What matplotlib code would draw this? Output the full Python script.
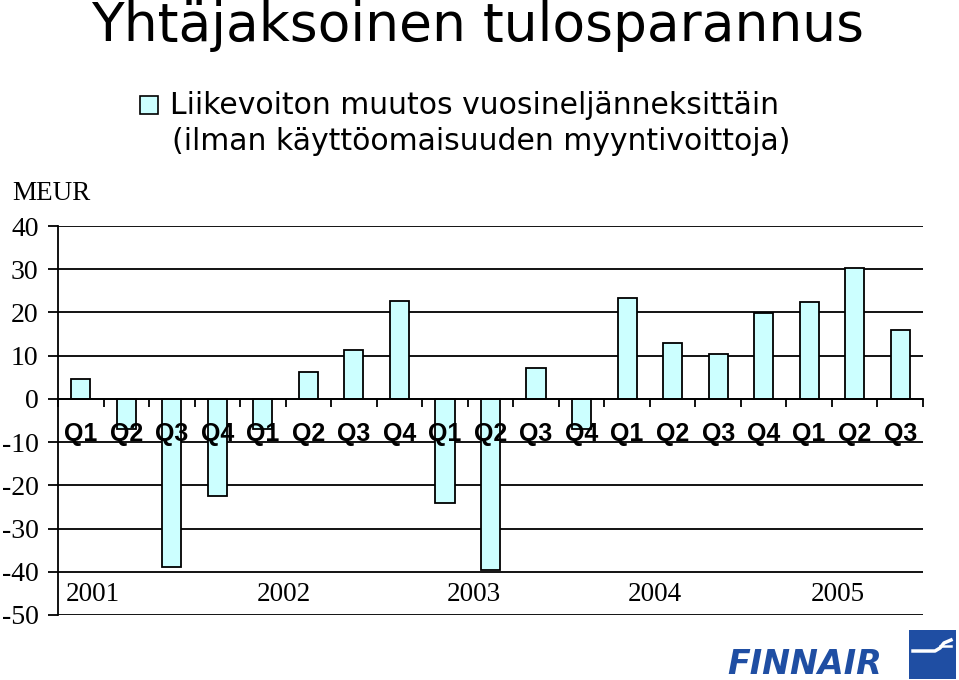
import matplotlib
matplotlib.use("Agg")
import matplotlib.pyplot as plt
from matplotlib.patches import Rectangle
from matplotlib.lines import Line2D
import numpy as np

quarters = ["Q1", "Q2", "Q3", "Q4", "Q1", "Q2", "Q3", "Q4", "Q1", "Q2", "Q3", "Q4",
            "Q1", "Q2", "Q3", "Q4", "Q1", "Q2", "Q3"]
values = [4.5, -7.0, -39.0, -22.4, -7.0, 6.2, 11.3, 22.6, -24.0, -39.5, 7.2, -7.0,
          23.3, 12.9, 10.4, 19.9, 22.4, 30.3, 16.0]
years = ["2001", "2002", "2003", "2004", "2005"]
year_pos = [0.27, 4.47, 8.64, 12.62, 16.62]
yticks = [-50, -40, -30, -20, -10, 0, 10, 20, 30, 40]

W, H = 959, 680
fig = plt.figure(figsize=(W / 100, H / 100), dpi=100)
ax = fig.add_axes([58 / W, 1 - 615 / H, (923 - 58) / W, (615 - 226) / H])

x = np.arange(len(values))
ax.bar(x, values, width=0.42, color="#ccffff", edgecolor="black", linewidth=1.3, zorder=3)

ax.set_xlim(-0.5, len(values) - 0.5)
ax.set_ylim(-50, 40)
ax.set_yticks(yticks)
ax.set_yticklabels([str(v) for v in yticks], fontfamily="Liberation Serif", fontsize=20)
ax.yaxis.grid(True, color="black", linewidth=1.3, zorder=1)
ax.tick_params(axis="y", direction="out", length=7, width=1.3, pad=7)

ax.spines["top"].set_visible(False)
ax.spines["right"].set_visible(False)
ax.spines["left"].set_linewidth(1.3)
ax.spines["bottom"].set_position(("data", 0))
ax.spines["bottom"].set_linewidth(1.3)
ax.spines["bottom"].set_zorder(4)
ax.set_xticks(np.arange(len(values) + 1) - 0.5)
ax.set_xticklabels([])
ax.tick_params(axis="x", direction="out", length=6, width=1.3)

for i, q in enumerate(quarters):
    ax.text(i, -8.2, q, ha="center", va="center", fontfamily="Liberation Sans",
            fontweight="bold", fontsize=18, zorder=5)
for p, yr in zip(year_pos, years):
    ax.text(p, -45.3, yr, ha="center", va="center", fontfamily="Liberation Serif",
            fontsize=19.5, zorder=5)

fig.text(12 / W, 1 - 193 / H, "MEUR", fontfamily="Liberation Serif", fontsize=19.5,
         ha="left", va="center")

fig.text(478 / W, 1 - 26 / H, "Yhtäjaksoinen tulosparannus", fontfamily="DejaVu Sans",
         fontsize=38.5, ha="center", va="center")

fig.patches.append(Rectangle((140 / W, 1 - 114 / H), 18 / W, 18 / H, transform=fig.transFigure,
                             facecolor="#ccffff", edgecolor="black", linewidth=1.2))
fig.text(170 / W, 1 - 105 / H, "Liikevoiton muutos vuosineljänneksittäin",
         fontfamily="DejaVu Sans", fontsize=21.5, ha="left", va="center")
fig.text(172 / W, 1 - 141 / H, "(ilman käyttöomaisuuden myyntivoittoja)",
         fontfamily="DejaVu Sans", fontsize=21.5, ha="left", va="center")

# Finnair logo
blue = "#1f4ea3"
fig.patches.append(Rectangle((909 / W, 1 - 679 / H), 47 / W, 49 / H, transform=fig.transFigure,
                             facecolor=blue, edgecolor="none"))
sx = np.array([913, 935, 940, 944, 951]) / W
sy = 1 - np.array([651, 651, 648, 643, 640]) / H
fig.lines.append(Line2D(sx, sy, transform=fig.transFigure, color="white", linewidth=2.5))
fig.lines.append(Line2D(np.array([940, 951]) / W, 1 - np.array([646, 646]) / H,
                        transform=fig.transFigure, color="white", linewidth=1.8))
fig.text(805 / W, 1 - 664 / H, "FINNAIR", fontfamily="DejaVu Sans", fontweight="bold",
         fontstyle="italic", fontsize=24, color=blue, ha="center", va="center")

fig.savefig("out.png", dpi=100)
